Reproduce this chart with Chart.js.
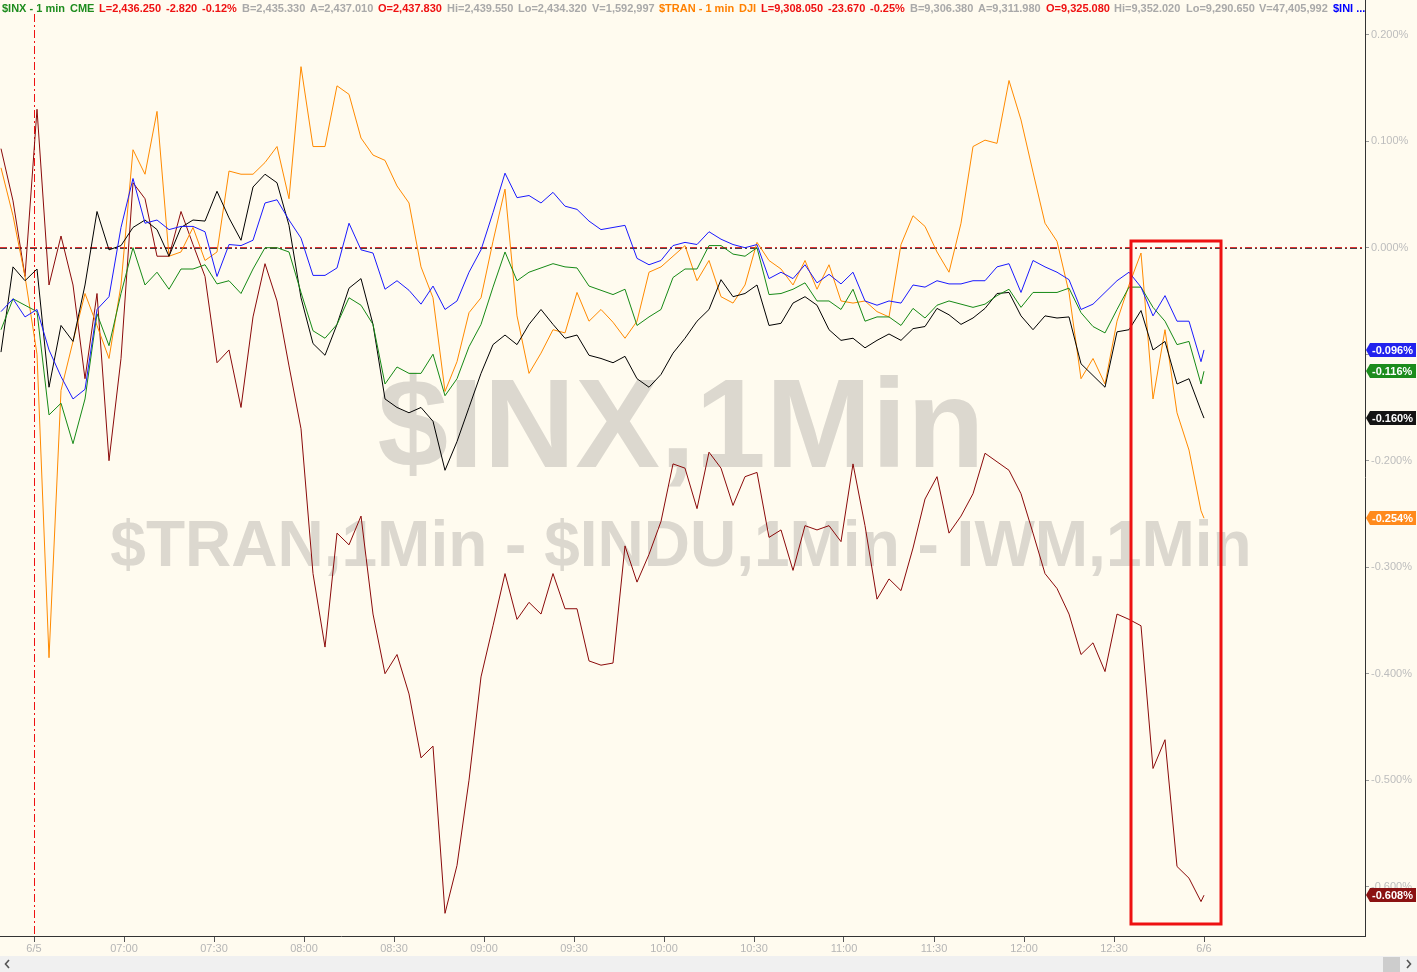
<!DOCTYPE html>
<html>
<head>
<meta charset="utf-8">
<title>$INX, $TRAN, $INDU, IWM - 1 min</title>
<script src="https://cdn.jsdelivr.net/npm/chart.js@4.4.1/dist/chart.umd.min.js"></script>
<style>
  html, body { margin: 0; padding: 0; background: #fffbef; }
  #wrap { position: relative; width: 1417px; height: 972px; }
</style>
</head>
<body>
<div id="wrap"><canvas id="chart" width="1417" height="972"></canvas></div>
<script>
// ============================================================
// Data — % change vs. prior close, minutes after 06:30
// ============================================================

const MINUTES = [
  -11, -7, -3, 1, 5, 9, 13, 17, 21, 25, 29, 33, 37, 41, 45, 49, 53, 57, 61, 65,
  69, 73, 77, 81, 85, 89, 93, 97, 101, 105, 109, 113, 117, 121, 125, 129, 133, 137, 141, 145,
  149, 153, 157, 161, 165, 169, 173, 177, 181, 185, 189, 193, 197, 201, 205, 209, 213, 217, 221, 225,
  229, 233, 237, 241, 245, 249, 253, 257, 261, 265, 269, 273, 277, 281, 285, 289, 293, 297, 301, 305,
  309, 313, 317, 321, 325, 329, 333, 337, 341, 345, 349, 353, 357, 361, 365, 369, 373, 377, 381, 385,
  389, 390,
];

// $INDU (blue)
const INDU = [
  -0.060, -0.048, -0.065, -0.058, -0.096, -0.121, -0.142, -0.133, -0.058, -0.046,
  0.019, 0.065, 0.023, 0.026, 0.017, 0.020, 0.020, 0.015, -0.027, 0.003,
  0.002, 0.007, 0.042, 0.045, 0.026, 0.009, -0.026, -0.026, -0.019, 0.023,
  -0.002, -0.005, -0.039, -0.031, -0.040, -0.053, -0.036, -0.058, -0.050, -0.023,
  -0.002, 0.033, 0.070, 0.047, 0.049, 0.042, 0.052, 0.039, 0.036, 0.025,
  0.017, 0.019, 0.021, -0.010, -0.016, -0.012, 0.002, 0.005, 0.003, 0.015,
  0.008, 0.003, 0.000, 0.003, -0.029, -0.023, -0.029, -0.016, -0.033, -0.025,
  -0.034, -0.023, -0.050, -0.054, -0.050, -0.052, -0.035, -0.037, -0.031, -0.034,
  -0.034, -0.031, -0.031, -0.018, -0.015, -0.042, -0.012, -0.018, -0.023, -0.030,
  -0.058, -0.053, -0.042, -0.031, -0.023, -0.037, -0.064, -0.045, -0.069, -0.069,
  -0.107, -0.096,
];

// $INX (green)
const INX = [
  -0.077, -0.048, -0.054, -0.060, -0.157, -0.146, -0.184, -0.142, -0.062, -0.092,
  -0.043, -0.000, -0.035, -0.023, -0.039, -0.020, -0.020, -0.016, -0.034, -0.031,
  -0.043, -0.020, 0.000, 0.000, -0.004, -0.042, -0.078, -0.085, -0.072, -0.047,
  -0.054, -0.072, -0.128, -0.112, -0.118, -0.118, -0.100, -0.139, -0.123, -0.093,
  -0.072, -0.037, -0.004, -0.031, -0.023, -0.019, -0.015, -0.018, -0.019, -0.036,
  -0.040, -0.044, -0.039, -0.073, -0.065, -0.058, -0.028, -0.020, -0.020, 0.002,
  0.002, -0.006, -0.008, 0.000, -0.044, -0.043, -0.039, -0.033, -0.050, -0.050,
  -0.058, -0.039, -0.069, -0.065, -0.065, -0.073, -0.057, -0.066, -0.054, -0.050,
  -0.053, -0.056, -0.053, -0.045, -0.039, -0.056, -0.042, -0.042, -0.042, -0.038,
  -0.061, -0.074, -0.080, -0.058, -0.037, -0.037, -0.056, -0.069, -0.091, -0.088,
  -0.128, -0.116,
];

// black series
const NDX = [
  -0.098, -0.018, -0.031, -0.020, -0.131, -0.073, -0.088, -0.035, 0.034, -0.002,
  0.002, 0.019, 0.026, 0.017, -0.008, 0.019, 0.026, 0.025, 0.053, 0.028,
  0.007, 0.057, 0.069, 0.061, 0.021, -0.047, -0.090, -0.101, -0.072, -0.038,
  -0.029, -0.072, -0.142, -0.150, -0.155, -0.150, -0.163, -0.209, -0.182, -0.150,
  -0.118, -0.091, -0.082, -0.091, -0.072, -0.058, -0.072, -0.085, -0.082, -0.101,
  -0.104, -0.108, -0.102, -0.123, -0.131, -0.119, -0.099, -0.085, -0.069, -0.058,
  -0.030, -0.046, -0.043, -0.035, -0.073, -0.071, -0.052, -0.046, -0.054, -0.077,
  -0.087, -0.085, -0.094, -0.087, -0.081, -0.087, -0.076, -0.074, -0.057, -0.063,
  -0.072, -0.066, -0.057, -0.043, -0.042, -0.064, -0.077, -0.064, -0.066, -0.065,
  -0.109, -0.120, -0.131, -0.079, -0.077, -0.059, -0.096, -0.088, -0.128, -0.123,
  -0.153, -0.160,
];

// $TRAN (orange)
const TRAN = [
  0.075, 0.030, -0.027, -0.100, -0.385, -0.134, -0.088, -0.043, -0.073, -0.104,
  -0.035, 0.092, 0.069, 0.128, -0.008, -0.004, 0.019, -0.012, -0.004, 0.072,
  0.069, 0.069, 0.080, 0.095, 0.046, 0.170, 0.095, 0.095, 0.152, 0.144,
  0.103, 0.087, 0.082, 0.058, 0.042, -0.018, -0.047, -0.135, -0.107, -0.061,
  -0.047, 0.006, 0.055, -0.064, -0.118, -0.099, -0.077, -0.080, -0.042, -0.069,
  -0.058, -0.070, -0.085, -0.069, -0.023, -0.018, -0.008, 0.002, -0.031, -0.012,
  -0.046, -0.052, -0.035, 0.005, -0.012, -0.020, -0.035, -0.012, -0.039, -0.016,
  -0.050, -0.052, -0.050, -0.060, -0.065, 0.003, 0.030, 0.020, -0.004, -0.023,
  0.023, 0.095, 0.101, 0.098, 0.157, 0.120, 0.071, 0.023, 0.006, -0.042,
  -0.123, -0.104, -0.128, -0.069, -0.035, -0.005, -0.142, -0.077, -0.155, -0.190,
  -0.247, -0.254,
];

// IWM (dark red)
const IWM = [
  0.093, 0.044, -0.027, 0.130, -0.035, 0.011, -0.035, -0.123, -0.043, -0.200,
  -0.104, 0.061, 0.046, -0.008, -0.008, 0.034, 0.003, -0.027, -0.108, -0.096,
  -0.150, -0.065, -0.015, -0.050, -0.111, -0.170, -0.306, -0.375, -0.268, -0.279,
  -0.252, -0.344, -0.400, -0.382, -0.419, -0.479, -0.468, -0.625, -0.580, -0.500,
  -0.403, -0.355, -0.306, -0.349, -0.333, -0.344, -0.306, -0.339, -0.339, -0.388,
  -0.392, -0.390, -0.280, -0.314, -0.288, -0.257, -0.203, -0.207, -0.245, -0.192,
  -0.207, -0.242, -0.215, -0.211, -0.272, -0.265, -0.303, -0.261, -0.265, -0.261,
  -0.276, -0.203, -0.261, -0.330, -0.311, -0.322, -0.282, -0.236, -0.215, -0.268,
  -0.252, -0.231, -0.193, -0.201, -0.209, -0.231, -0.268, -0.306, -0.320, -0.344,
  -0.382, -0.371, -0.398, -0.344, -0.349, -0.355, -0.489, -0.462, -0.581, -0.592,
  -0.614, -0.608,
];

const TICK_MINUTES = [0, 30, 60, 90, 120, 150, 180, 210, 240, 270, 300, 330, 360, 390];
const TICK_LABELS = ['6/5', '07:00', '07:30', '08:00', '08:30', '09:00', '09:30',
                     '10:00', '10:30', '11:00', '11:30', '12:00', '12:30', '6/6'];
const Y_TICKS = [0.2, 0.1, 0, -0.1, -0.2, -0.3, -0.4, -0.5, -0.6];

const HEADER = [
  ['$INX - 1 min', '#1e8c1e'], ['CME', '#1e8c1e'],
  ['L=2,436.250', '#ee1111'], ['-2.820', '#ee1111'], ['-0.12%', '#ee1111'],
  ['B=2,435.330', '#a9a9a9'], ['A=2,437.010', '#a9a9a9'],
  ['O=2,437.830', '#ee1111'],
  ['Hi=2,439.550', '#a9a9a9'], ['Lo=2,434.320', '#a9a9a9'], ['V=1,592,997', '#a9a9a9'],
  ['$TRAN - 1 min', '#ff8000'], ['DJI', '#ff8000'],
  ['L=9,308.050', '#ee1111'], ['-23.670', '#ee1111'], ['-0.25%', '#ee1111'],
  ['B=9,306.380', '#a9a9a9'], ['A=9,311.980', '#a9a9a9'],
  ['O=9,325.080', '#ee1111'],
  ['Hi=9,352.020', '#a9a9a9'], ['Lo=9,290.650', '#a9a9a9'], ['V=47,405,992', '#a9a9a9'],
  ['$INI ...', '#0000ff'],
];

const WATERMARK = ['$INX,1Min', '$TRAN,1Min - $INDU,1Min - IWM,1Min'];

// ============================================================
// Look
// ============================================================

const FONT = "'Liberation Sans', Arial, sans-serif";
const BG = '#fffbef';

const SERIES = [
  { name: '$INDU', values: INDU, line: '#1a1aff', tag: '#2222ee' },
  { name: '$INX',  values: INX,  line: '#168a16', tag: '#1c8c1c' },
  { name: 'NDX',   values: NDX,  line: '#000000', tag: '#141414' },
  { name: '$TRAN', values: TRAN, line: '#ff8a00', tag: '#ff8a1c' },
  { name: 'IWM',   values: IWM,  line: '#8b0a0a', tag: '#8b1212' },
];

// ── decorations: background, watermark, ref lines, tags, header ──
const decor = {
  id: 'decor',
  beforeDraw(chart) {
    const { ctx, width, height } = chart;
    ctx.save();
    ctx.fillStyle = BG;
    ctx.fillRect(0, 0, width, height);
    ctx.restore();
  },
  beforeDatasetsDraw(chart) {
    const { ctx, chartArea: a, scales: { x, y } } = chart;
    ctx.save();
    // watermark
    ctx.fillStyle = '#dcd8cf';
    ctx.textAlign = 'center';
    ctx.textBaseline = 'alphabetic';
    ctx.font = `bold 127px ${FONT}`;
    ctx.fillText(WATERMARK[0], 681, 467);
    ctx.font = `bold 64px ${FONT}`;
    ctx.fillText(WATERMARK[1], 681, 566);

    // zero line (dash-dot)
    const y0 = Math.round(y.getPixelForValue(0));
    ctx.lineWidth = 1;
    ctx.setLineDash([7, 3, 2, 3]);
    ctx.strokeStyle = '#e03030';
    ctx.beginPath(); ctx.moveTo(a.left, y0 - 0.5); ctx.lineTo(a.right, y0 - 0.5); ctx.stroke();
    ctx.strokeStyle = '#444';
    ctx.beginPath(); ctx.moveTo(a.left, y0 + 0.5); ctx.lineTo(a.right, y0 + 0.5); ctx.stroke();

    // session start marker
    const xs = Math.round(x.getPixelForValue(0)) + 0.5;
    ctx.strokeStyle = '#ee1111';
    ctx.setLineDash([8, 3, 2, 3]);
    ctx.beginPath(); ctx.moveTo(xs, 14); ctx.lineTo(xs, a.bottom); ctx.stroke();
    ctx.restore();
  },
  afterDatasetsDraw(chart) {
    const { ctx, chartArea: a, scales: { y } } = chart;
    ctx.save();
    // highlight box
    ctx.strokeStyle = '#ee1111';
    ctx.lineWidth = 3;
    ctx.strokeRect(1131, 241, 90, 683);

    // last-value tags on the right axis
    ctx.font = `bold 11px ${FONT}`;
    ctx.textAlign = 'left';
    ctx.textBaseline = 'middle';
    SERIES.forEach(s => {
      const v = s.values[s.values.length - 1];
      const py = Math.round(y.getPixelForValue(v));
      const l = a.right + 1;
      ctx.fillStyle = s.tag;
      ctx.beginPath();
      ctx.moveTo(l, py);
      ctx.lineTo(l + 4, py - 7);
      ctx.lineTo(1416, py - 7);
      ctx.lineTo(1416, py + 7);
      ctx.lineTo(l + 4, py + 7);
      ctx.closePath();
      ctx.fill();
      ctx.fillStyle = '#fff';
      ctx.fillText(v.toFixed(3) + '%', l + 6, py + 1);
    });
    ctx.restore();
  },
  afterDraw(chart) {
    const { ctx, width, height, chartArea: a } = chart;
    ctx.save();
    // header quote line
    ctx.font = `bold 11px ${FONT}`;
    ctx.textAlign = 'left';
    ctx.textBaseline = 'alphabetic';
    const widths = HEADER.map(h => ctx.measureText(h[0]).width);
    const last = HEADER.length - 1;
    const gap = (1333 - 2 - widths.slice(0, last).reduce((s, w) => s + w, 0)) / last;
    let hx = 2;
    HEADER.forEach((h, i) => {
      ctx.fillStyle = h[1];
      ctx.fillText(h[0], Math.round(hx), 12);
      hx += widths[i] + gap;
    });

    // axis line runs up through the header
    ctx.strokeStyle = '#333';
    ctx.lineWidth = 1;
    ctx.beginPath(); ctx.moveTo(a.right + 0.5, 0); ctx.lineTo(a.right + 0.5, a.top); ctx.stroke();

    // scroll bar
    ctx.fillStyle = '#f0f0f0';
    ctx.fillRect(0, 956, width, height - 956);
    ctx.fillStyle = '#cdcdcd';
    ctx.fillRect(1383, 957, 17, 15);
    ctx.strokeStyle = '#555';
    ctx.lineWidth = 1.6;
    ctx.beginPath(); ctx.moveTo(9, 960); ctx.lineTo(5.5, 964); ctx.lineTo(9, 968); ctx.stroke();
    ctx.beginPath(); ctx.moveTo(1407, 960); ctx.lineTo(1410.5, 964); ctx.lineTo(1407, 968); ctx.stroke();
    ctx.restore();
  },
};

// ============================================================
// Chart
// ============================================================

new Chart(document.getElementById('chart'), {
  type: 'line',
  data: {
    datasets: SERIES.map(s => ({
      label: s.name,
      data: s.values.map((v, i) => ({ x: MINUTES[i], y: v })),
      borderColor: s.line,
      borderWidth: 1,
      pointRadius: 0,
      tension: 0,
      fill: false,
    })),
  },
  options: {
    responsive: false,
    animation: false,
    devicePixelRatio: 1,
    layout: { padding: { top: 18, left: 0, right: 0, bottom: 0 } },
    plugins: { legend: { display: false }, tooltip: { enabled: false } },
    scales: {
      x: {
        type: 'linear',
        min: -34 / 3,
        max: (1365 - 34) / 3,
        afterBuildTicks: s => { s.ticks = TICK_MINUTES.map(v => ({ value: v })); },
        afterFit: s => { s.height = 36; },
        grid: { drawOnChartArea: false, drawTicks: true, tickLength: 6, color: '#555' },
        border: { display: true, color: '#333' },
        ticks: {
          autoSkip: false, maxRotation: 0, padding: 0,
          color: '#b5b5b5', font: { family: FONT, size: 11 },
          callback: v => TICK_LABELS[TICK_MINUTES.indexOf(v)],
        },
      },
      y: {
        position: 'right',
        min: -0.6463,
        max: 0.2157,
        afterBuildTicks: s => { s.ticks = Y_TICKS.map(v => ({ value: v })); },
        afterFit: s => { s.width = 52; },
        grid: { drawOnChartArea: false, drawTicks: true, tickLength: 4, color: '#999' },
        border: { display: true, color: '#333' },
        ticks: {
          padding: 2, color: '#bdbdbd', font: { family: FONT, size: 11 },
          callback: v => v.toFixed(3) + '%',
        },
      },
    },
  },
  plugins: [decor],
});
</script>
</body>
</html>
